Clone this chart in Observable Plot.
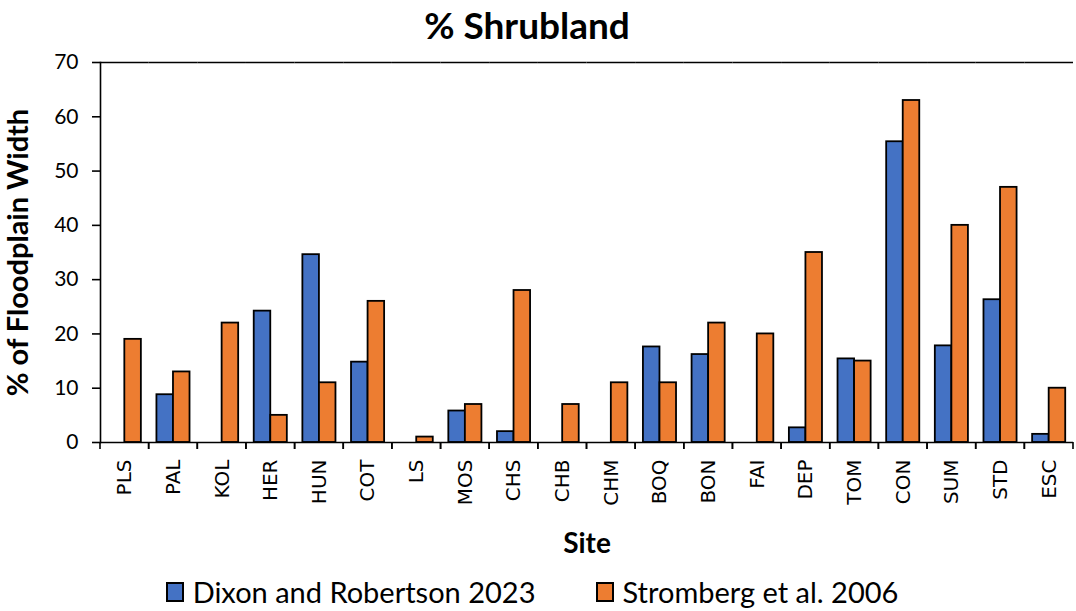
<!DOCTYPE html>
<html>
<head>
<meta charset="utf-8">
<script src="https://cdn.jsdelivr.net/npm/d3@7"></script>
<script src="https://cdn.jsdelivr.net/npm/@observablehq/plot@0.6"></script>
<style>
  html, body { margin: 0; padding: 0; background: #fff; }
  body { width: 1076px; height: 611px; overflow: hidden; font-family: Lato, "Open Sans", sans-serif; }
  #title { height: 44px; line-height: 50px; text-align: center; font-weight: bold; font-size: 37px; padding-right: 22px; color: #000; }
  #legend { height: 51px; display: flex; justify-content: center; align-items: center; gap: 60px; font-size: 29px; color: #000; padding-right: 12px; padding-top: 12px; box-sizing: border-box; }
  .item { display: flex; align-items: center; gap: 9px; }
  .sw { width: 18px; height: 20px; border: 2px solid #000; box-sizing: border-box; }
  #chart svg { display: block; }
</style>
</head>
<body>
<div id="title">% Shrubland</div>
<div id="chart"></div>
<div id="legend"></div>
<script>
const sites = ["PLS","PAL","KOL","HER","HUN","COT","LS","MOS","CHS","CHB","CHM","BOQ","BON","FAI","DEP","TOM","CON","SUM","STD","ESC"];
const dixon = [null, 8.8, null, 24.2, 34.6, 14.8, null, 5.8, 2.0, null, null, 17.6, 16.2, null, 2.7, 15.4, 55.4, 17.8, 26.3, 1.5];
const stromberg = [19, 13, 22, 5, 11, 26, 1, 7, 28, 7, 11, 11, 22, 20, 35, 15, 63, 40, 47, 10];
const seriesNames = ["Dixon and Robertson 2023", "Stromberg et al. 2006"];
const seriesColors = ["#4472C4", "#ED7D31"];
const yTicks = [0, 10, 20, 30, 40, 50, 60, 70];

const data = [];
sites.forEach((s, i) => {
  if (dixon[i] != null) data.push({site: s, series: seriesNames[0], value: dixon[i]});
  if (stromberg[i] != null) data.push({site: s, series: seriesNames[1], value: stromberg[i]});
});

function boundaryTicks(index, scales, values, dims) {
  const g = d3.create("svg:g").attr("stroke", "black").attr("stroke-width", 1.6);
  const y0 = dims.height - dims.marginBottom;
  for (const x of [dims.marginLeft, dims.width - dims.marginRight]) {
    g.append("line").attr("x1", x).attr("x2", x).attr("y1", y0).attr("y2", y0 + 7);
  }
  return g.node();
}

const chart = Plot.plot({
  width: 1076,
  height: 516,
  marginTop: 18,
  marginBottom: 118,
  marginLeft: 100,
  marginRight: 3,
  style: {fontFamily: "Lato, 'Open Sans', sans-serif", color: "#000", background: "#fff"},
  fx: {domain: sites, padding: 0, round: false, label: null, axis: null},
  x: {domain: seriesNames, paddingInner: 0, paddingOuter: 0.47, round: false, axis: null},
  y: {domain: [0, 70], axis: null},
  color: {domain: seriesNames, range: seriesColors},
  marks: [
    Plot.barY(data, {fx: "site", x: "series", y: "value", fill: "series", stroke: "black", strokeWidth: 1.8}),
    Plot.ruleY([0], {stroke: "black", strokeWidth: 1.6}),
    Plot.ruleY([70], {stroke: "black", strokeWidth: 1.6}),
    boundaryTicks,
    Plot.frame({anchor: "left", facetAnchor: "left", stroke: "black", strokeWidth: 1.6}),
    Plot.axisY({ticks: yTicks, tickSize: 8, tickPadding: 14, fontSize: 21, label: null, strokeWidth: 1.6}),
    Plot.axisY({ticks: [], label: "% of Floodplain Width", labelAnchor: "center", labelArrow: "none", labelOffset: 93, fontSize: 29, fontWeight: "bold"}),
    Plot.axisFx({anchor: "bottom", tickRotate: -90, tickSize: 0, tickPadding: 17, fontSize: 20, fontFamily: "DejaVu Sans", label: null}),
    Plot.axisFx({anchor: "bottom", ticks: [], label: "Site", labelAnchor: "center", labelArrow: "none", labelOffset: 110, fontSize: 28, fontWeight: "bold"})
  ]
});
document.getElementById("chart").append(chart);

const legend = d3.select("#legend");
seriesNames.forEach((n, i) => {
  const it = legend.append("div").attr("class", "item");
  it.append("div").attr("class", "sw").style("background", seriesColors[i]);
  it.append("span").text(n);
});
</script>
</body>
</html>
